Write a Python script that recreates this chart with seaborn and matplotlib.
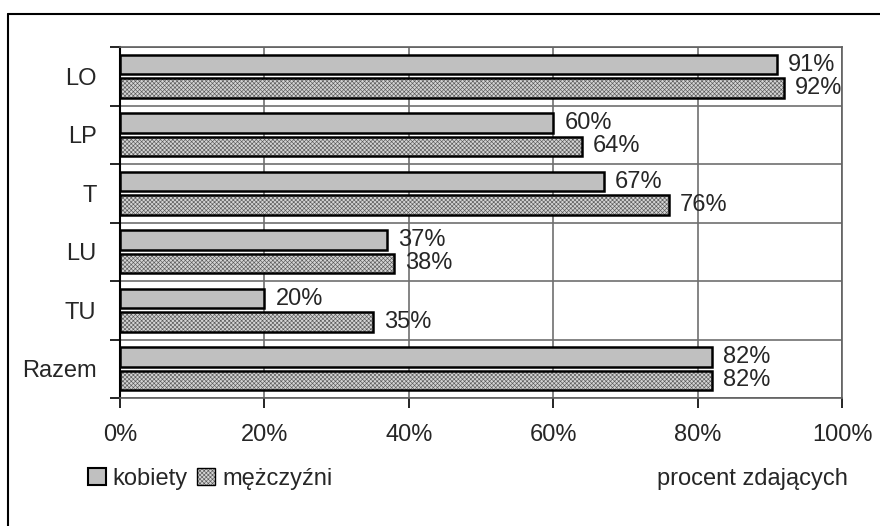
import pandas as pd
import matplotlib
matplotlib.use("Agg")
import matplotlib.pyplot as plt
from matplotlib.patches import Patch
from matplotlib.lines import Line2D
import matplotlib.colors as mcolors
import seaborn as sns

sns.set_style("white")
plt.rcParams['font.family'] = ['Liberation Sans', 'DejaVu Sans']
plt.rcParams['hatch.linewidth'] = 0.45

# data
categories = ["LO", "LP", "T", "LU", "TU", "Razem"]
kobiety = [91, 60, 67, 37, 20, 82]
mezczyzni = [92, 64, 76, 38, 35, 82]
series = ["kobiety", "mężczyźni"]

df = pd.DataFrame({
    "kategoria": categories * 2,
    "grupa": [series[0]] * len(categories) + [series[1]] * len(categories),
    "procent": kobiety + mezczyzni,
})

HATCH_FACE = "#d4d4d4"
HATCH_COLOR = "#5a5a5a"


def set_fine_hatch(patch):
    patch.set_hatch("xxxxxxxx")
    patch.set_edgecolor("black")
    if hasattr(patch, "set_hatchcolor"):
        patch.set_hatchcolor(HATCH_COLOR)
    else:
        patch._hatch_color = mcolors.to_rgba(HATCH_COLOR)


fig = plt.figure(figsize=(8.8, 5.26), dpi=100)
ax = fig.add_axes([120 / 880, 1 - 398 / 526, 722 / 880, 351 / 526])

sns.barplot(data=df, y="kategoria", x="procent", hue="grupa", orient="h",
            palette=["#c0c0c0", HATCH_FACE], edgecolor="black", linewidth=1.8,
            width=0.8, gap=0.18, legend=False, ax=ax, zorder=3)

for bar in ax.containers[1]:
    set_fine_hatch(bar)

for cont, vals in zip(ax.containers, [kobiety, mezczyzni]):
    ax.bar_label(cont, labels=[f"{v}%" for v in vals], padding=8, fontsize=17)

ax.set_xlim(0, 100)
ax.set_ylim(len(categories) - 0.5, -0.5)
ax.set_xticks([0, 20, 40, 60, 80, 100])
ax.set_xticklabels([f"{v}%" for v in [0, 20, 40, 60, 80, 100]])
ax.set_yticks(range(len(categories)))
ax.set_yticklabels(categories)
ax.set_yticks([i - 0.5 for i in range(len(categories) + 1)], minor=True)
ax.set_xlabel("")
ax.set_ylabel("")

ax.tick_params(axis="x", which="major", length=7, width=1.2, color="black",
               direction="out", pad=12, labelsize=17, bottom=True)
ax.tick_params(axis="y", which="major", length=0, pad=17, labelsize=17)
ax.tick_params(axis="y", which="minor", length=7, width=1.2, color="black",
               direction="out", left=True)

ax.grid(False)
ax.xaxis.grid(True, which="major", color="#707070", linewidth=1.2, zorder=0)
ax.yaxis.grid(True, which="minor", color="#707070", linewidth=1.2, zorder=0)
ax.set_axisbelow(True)

for side in ["top", "right", "bottom"]:
    ax.spines[side].set_visible(True)
    ax.spines[side].set_color("#606060")
    ax.spines[side].set_linewidth(1.2)
ax.spines["left"].set_color("black")
ax.spines["left"].set_linewidth(1.5)

h_women = Patch(facecolor="#c0c0c0", edgecolor="black", linewidth=1.5)
h_men = Patch(facecolor=HATCH_FACE, edgecolor="black", linewidth=1.0)
set_fine_hatch(h_men)
fig.legend([h_women, h_men], series, loc="center left",
           bbox_to_anchor=(88 / 880, 1 - 479 / 526),
           ncol=2, frameon=False, fontsize=17, handlelength=0.75, handleheight=0.75,
           handletextpad=0.3, columnspacing=0.4, borderaxespad=0, borderpad=0)

fig.text(752 / 880, 1 - 479 / 526, "procent zdających", fontsize=17,
         ha="center", va="center")

# outer chart frame (cropped on the right and bottom)
fig.add_artist(Line2D([8 / 880, 1], [1 - 14 / 526, 1 - 14 / 526], color="black",
                      linewidth=1.5, transform=fig.transFigure))
fig.add_artist(Line2D([8 / 880, 8 / 880], [0, 1 - 14 / 526], color="black",
                      linewidth=1.5, transform=fig.transFigure))

fig.savefig("out.png", dpi=100)
